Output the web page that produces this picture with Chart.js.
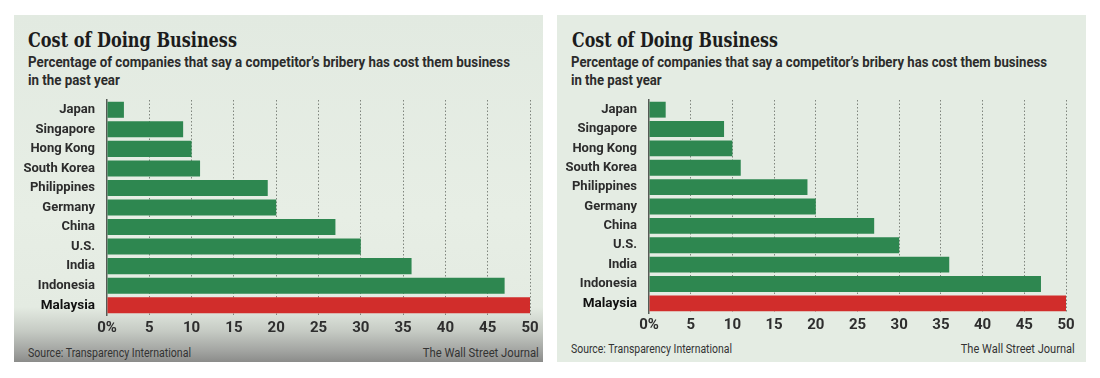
<!DOCTYPE html>
<html>
<head>
<meta charset="utf-8">
<script src="https://cdn.jsdelivr.net/npm/chart.js@4.4.0/dist/chart.umd.min.js"></script>
<style>
  html, body { margin: 0; padding: 0; background: #ffffff; width: 1100px; height: 378px; overflow: hidden; }
  .panel { position: absolute; top: 15px; width: 529px; height: 347px; background: #e4ece3; }
  #p1 { left: 14px; background: linear-gradient(to bottom, #e2eae1 0px, #e7eee5 200px, #e4ebe2 292px, #c6cbc4 316px, #a2a4a1 336px, #8b8c8a 347px); }
  #p2 { left: 557px; }
  .title { position: absolute; left: 14px; top: 13px; font-family: "DejaVu Serif Condensed", "DejaVu Serif", serif; font-weight: bold; font-size: 20px; color: #1c1c1c; white-space: nowrap; transform-origin: left top; }
  .sub { position: absolute; left: 14px; top: 38px; font-family: "Roboto", "Liberation Sans", sans-serif; font-weight: bold; font-size: 14px; line-height: 18px; color: #2c2c2c; white-space: nowrap; transform-origin: left top; }
  .src, .wsj { position: absolute; font-family: "Roboto", "Liberation Sans", sans-serif; font-size: 12px; color: #333; white-space: nowrap; }
  .src { transform-origin: left top; }
  .wsj { transform-origin: right top; }
  canvas { position: absolute; left: 0; top: 0; }
</style>
</head>
<body>
<div class="panel" id="p1">
  <div class="title" data-w="209">Cost of Doing Business</div>
  <div class="sub" data-w="482">Percentage of companies that say a competitor’s bribery has cost them business<br>in the past year</div>
  <div class="src" data-w="163" style="left:14px; top:331px;">Source: Transparency International</div>
  <div class="wsj" data-w="116" style="right:4px; top:331px;">The Wall Street Journal</div>
  <canvas id="c1" width="529" height="347"></canvas>
</div>
<div class="panel" id="p2">
  <div class="title" data-w="206" style="left:15px;">Cost of Doing Business</div>
  <div class="sub" data-w="476">Percentage of companies that say a competitor’s bribery has cost them business<br>in the past year</div>
  <div class="src" data-w="161" style="left:14px; top:327px;">Source: Transparency International</div>
  <div class="wsj" data-w="114" style="right:11px; top:327px;">The Wall Street Journal</div>
  <canvas id="c2" width="529" height="347"></canvas>
</div>
<script>
const categories = ['Japan', 'Singapore', 'Hong Kong', 'South Korea', 'Philippines', 'Germany', 'China', 'U.S.', 'India', 'Indonesia', 'Malaysia'];
const values = [2, 9, 10, 11, 19, 20, 27, 30, 36, 47, 50];
const xTickLabels = ['0%', '5', '10', '15', '20', '25', '30', '35', '40', '45', '50'];
const highlight = 'Malaysia';

// fit header/footer texts to the widths measured on the reference
document.querySelectorAll('[data-w]').forEach(el => {
  const w = el.getBoundingClientRect().width;
  el.style.transform = 'scaleX(' + (+el.dataset.w / w) + ')';
});

const FONT = '"Roboto", "Liberation Sans", sans-serif';

function makeChart(id, cfg) {
  return new Chart(document.getElementById(id), {
    type: 'bar',
    data: {
      labels: categories,
      datasets: [{
        data: values,
        backgroundColor: categories.map(c => c === highlight ? '#d12d2b' : '#2e8750'),
        borderWidth: 0,
        barPercentage: 0.82,
        categoryPercentage: 1.0
      }]
    },
    options: {
      indexAxis: 'y',
      responsive: false,
      animation: false,
      maintainAspectRatio: false,
      layout: { padding: { top: cfg.top, right: cfg.right, bottom: cfg.bottom, left: 0 } },
      plugins: { legend: { display: false }, tooltip: { enabled: false }, title: { display: false } },
      scales: {
        x: {
          min: 0, max: 50,
          afterFit: s => { s.height = 25; },
          ticks: {
            stepSize: 5,
            padding: cfg.xpad,
            color: '#2e2e2e',
            font: { family: FONT, size: 15, weight: 'bold' },
            callback: (v, i) => xTickLabels[i]
          },
          grid: {
            drawTicks: false,
            color: ctx => (ctx.tick && ctx.tick.value === 0) ? 'rgba(0,0,0,0)' : '#7f857d',
            lineWidth: 1
          },
          border: { display: false, dash: [1.5, 2] }
        },
        y: {
          afterFit: s => { s.width = cfg.yw; },
          ticks: {
            autoSkip: false,
            padding: 12,
            color: ctx => ctx.index === categories.indexOf(highlight) ? '#111' : '#2c2c2c',
            font: ctx => ({ family: FONT, size: ctx.index === categories.indexOf(highlight) ? 13.5 : 13, weight: 'bold' })
          },
          grid: { display: false, drawTicks: false },
          border: { display: true, color: '#555a55', width: 1.5 }
        }
      }
    }
  });
}

makeChart('c1', { top: 85, right: 13, bottom: 22, yw: 93, xpad: 4 });
makeChart('c2', { top: 85, right: 20, bottom: 24, yw: 92, xpad: 3 });
</script>
</body>
</html>
